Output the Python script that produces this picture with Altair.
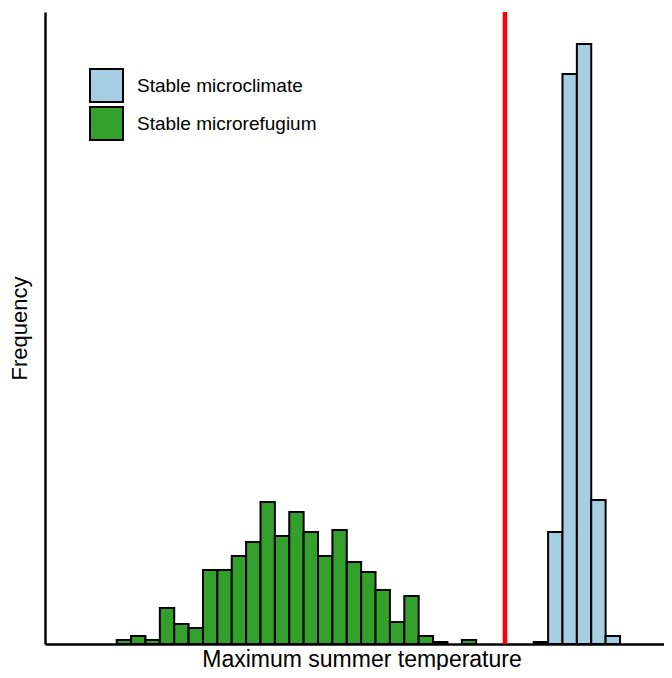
import altair as alt
import pandas as pd

# Histogram bins (maximum summer temperature, arbitrary units)
bin_width = 0.5
first_bin = 20.0

# Counts per bin
green_counts = [2, 4, 2, 18, 10, 8, 37, 37, 44, 51, 71, 54, 66, 56, 44, 57, 41, 36, 27, 11, 24, 4, 1, 0, 2]
green_first_index = 0
blue_counts = [1, 56, 285, 300, 72, 4]
blue_first_index = 29

threshold = [33.5]

groups = ["Stable microclimate", "Stable microrefugium"]
colors = ["#a6cee3", "#33a02c"]

rows = []
for i, c in enumerate(green_counts):
    if c > 0:
        left = first_bin + (green_first_index + i) * bin_width
        rows.append({"bin_left": left, "bin_right": left + bin_width, "count": c, "group": groups[1]})
for i, c in enumerate(blue_counts):
    if c > 0:
        left = first_bin + (blue_first_index + i) * bin_width
        rows.append({"bin_left": left, "bin_right": left + bin_width, "count": c, "group": groups[0]})
df = pd.DataFrame(rows)

x_scale = alt.Scale(domain=[17.507, 39.030], nice=False, zero=False)
y_scale = alt.Scale(domain=[0, 316], nice=False)

bars = alt.Chart(df).mark_bar(stroke="black", strokeWidth=2, opacity=1).encode(
    x=alt.X("bin_left:Q", scale=x_scale,
            axis=alt.Axis(title="Maximum summer temperature", labels=False, ticks=False, grid=False,
                          domainColor="black", domainWidth=2.5, titlePadding=4, titleX=316.5,
                          titleFontSize=23)),
    x2="bin_right:Q",
    y=alt.Y("count:Q", scale=y_scale,
            axis=alt.Axis(title="Frequency", labels=False, ticks=False, grid=False,
                          domainColor="black", domainWidth=2.5, titlePadding=14,
                          titleFontSize=22)),
    y2=alt.datum(0),
    color=alt.Color("group:N", scale=alt.Scale(domain=groups, range=colors),
                    legend=alt.Legend(title=None, orient="none", legendX=44, legendY=56,
                                      symbolType="square", symbolSize=1089,
                                      symbolStrokeColor="black", symbolStrokeWidth=2,
                                      symbolOpacity=1,
                                      labelFont="Liberation Sans", labelFontSize=19,
                                      labelColor="black", labelOffset=13, labelLimit=400,
                                      rowPadding=-4, padding=0)),
)

rule = alt.Chart(pd.DataFrame({"t": threshold})).mark_rule(color="#ff0000", strokeWidth=4.5).encode(
    x=alt.X("t:Q", scale=x_scale)
)

chart = alt.layer(bars, rule).properties(
    width=619, height=632,
    autosize=alt.AutoSizeParams(type="none"),
    padding={"left": 37, "top": 4, "right": 0, "bottom": 26},
).configure_view(stroke=None).configure_axis(
    titleFont="Liberation Sans", titleFontWeight="normal", titleColor="black"
)

chart.save("out.html", embed_options={"renderer": "svg", "actions": False})
